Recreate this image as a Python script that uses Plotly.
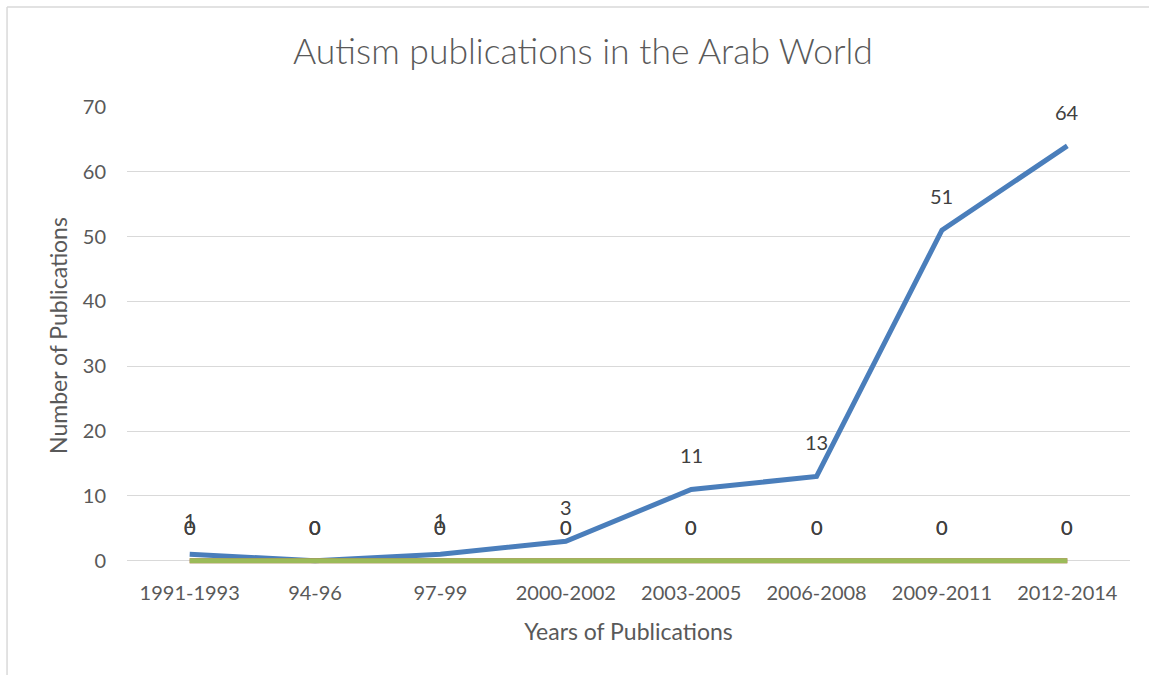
import plotly.graph_objects as go

periods = ["1991-1993", "94-96", "97-99", "2000-2002", "2003-2005",
           "2006-2008", "2009-2011", "2012-2014"]
arab_world = [1, 0, 1, 3, 11, 13, 51, 64]
series_b = [0, 0, 0, 0, 0, 0, 0, 0]
series_c = [0, 0, 0, 0, 0, 0, 0, 0]
y_ticks = [0, 10, 20, 30, 40, 50, 60, 70]

FONT = "Lato"
TXT = "#595959"

fig = go.Figure()
series = [
    (arab_world, "#4A7EBB"),
    (series_b, "#C0504D"),
    (series_c, "#9BBB59"),
]
for vals, col in series:
    fig.add_trace(go.Scatter(
        x=periods, y=vals, mode="lines",
        line=dict(color=col, width=5),
        cliponaxis=False,
        showlegend=False, hoverinfo="skip",
    ))

annotations = []
for vals, _ in series:
    for p, v in zip(periods, vals):
        annotations.append(dict(
            x=p, y=v, xref="x", yref="y", text=str(v), showarrow=False,
            yshift=34, font=dict(family=FONT, size=20, color="#404040"),
        ))

# plot area runs a little below zero so the flat series are not cut in half
fig.update_layout(
    width=1149, height=675,
    paper_bgcolor="white", plot_bgcolor="white",
    margin=dict(l=127, r=19, t=107, b=111),
    title=dict(text="Autism publications in the Arab World",
               x=0.5074, xanchor="center", y=0.923, yanchor="middle",
               font=dict(family=FONT, size=35.5, color=TXT, weight=300)),
    annotations=annotations,
    xaxis=dict(
        type="category", range=[-0.5, 7.5],
        showgrid=False, zeroline=False, showline=False, ticks="",
        ticklabelstandoff=15,
        tickfont=dict(family=FONT, size=20, color=TXT),
        title=dict(text="Years of Publications", standoff=20,
                   font=dict(family=FONT, size=23, color=TXT)),
    ),
    yaxis=dict(
        range=[-0.5, 70], tickvals=y_ticks,
        showgrid=True, gridcolor="#D9D9D9", gridwidth=1.3,
        zeroline=False, showline=False, ticks="",
        ticklabelstandoff=20,
        tickfont=dict(family=FONT, size=20, color=TXT),
        title=dict(text="Number of Publications", standoff=8,
                   font=dict(family=FONT, size=23, color=TXT)),
    ),
    shapes=[
        dict(type="line", xref="paper", yref="paper",
             x0=-0.1196, x1=1.02, y0=1.2188, y1=1.2188,
             line=dict(color="#D9D9D9", width=1.5)),
        dict(type="line", xref="paper", yref="paper",
             x0=-0.1196, x1=-0.1196, y0=1.2188, y1=-0.26,
             line=dict(color="#D9D9D9", width=1.5)),
    ],
)

fig.write_html("out.html")
